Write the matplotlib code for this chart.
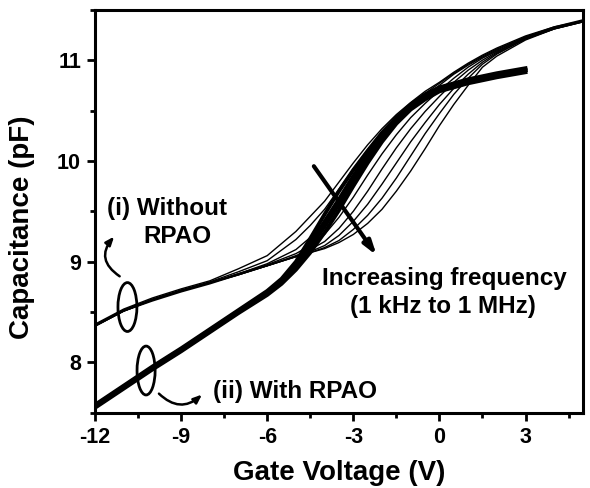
import matplotlib
matplotlib.use("Agg")
import matplotlib.pyplot as plt
from matplotlib.patches import Ellipse, FancyArrowPatch
from matplotlib.ticker import MultipleLocator

plt.rcParams['font.family'] = ['Liberation Sans', 'DejaVu Sans']
plt.rcParams['font.weight'] = 'bold'
plt.rcParams['axes.unicode_minus'] = False

# (i) without RPAO: gate voltage grid and one C-V curve per frequency (1 kHz -> 1 MHz)
v_without = [-12, -11, -10, -9, -8, -7, -6, -5, -4.5, -4, -3.5, -3, -2.5, -2, -1.5, -1,
             -0.5, 0, 0.5, 1, 1.5, 2, 3, 4, 5]
c_without = [
    [8.38, 8.53, 8.64, 8.73, 8.81, 8.93, 9.06, 9.30, 9.45, 9.60, 9.79, 9.98, 10.16, 10.32, 10.46, 10.58,
     10.69, 10.78, 10.88, 10.97, 11.05, 11.12, 11.24, 11.33, 11.40],
    [8.37, 8.52, 8.63, 8.72, 8.80, 8.90, 9.01, 9.22, 9.36, 9.52, 9.72, 9.92, 10.11, 10.28, 10.43, 10.56,
     10.67, 10.77, 10.87, 10.96, 11.04, 11.11, 11.23, 11.33, 11.39],
    [8.37, 8.52, 8.62, 8.71, 8.79, 8.88, 8.98, 9.12, 9.24, 9.40, 9.60, 9.83, 10.04, 10.22, 10.38, 10.52,
     10.64, 10.75, 10.86, 10.95, 11.03, 11.10, 11.23, 11.32, 11.39],
    [8.37, 8.52, 8.62, 8.71, 8.79, 8.88, 8.97, 9.08, 9.16, 9.27, 9.44, 9.64, 9.86, 10.07, 10.26, 10.43,
     10.57, 10.70, 10.82, 10.93, 11.02, 11.09, 11.22, 11.32, 11.39],
    [8.37, 8.51, 8.62, 8.71, 8.79, 8.88, 8.96, 9.06, 9.12, 9.20, 9.33, 9.50, 9.70, 9.92, 10.13, 10.32,
     10.49, 10.64, 10.78, 10.90, 11.00, 11.08, 11.22, 11.32, 11.39],
    [8.36, 8.51, 8.62, 8.71, 8.79, 8.87, 8.96, 9.05, 9.10, 9.16, 9.26, 9.40, 9.57, 9.77, 9.98, 10.19,
     10.38, 10.56, 10.72, 10.86, 10.98, 11.07, 11.21, 11.31, 11.38],
    [8.36, 8.51, 8.62, 8.71, 8.79, 8.87, 8.96, 9.05, 9.09, 9.14, 9.21, 9.32, 9.46, 9.63, 9.83, 10.05,
     10.27, 10.47, 10.66, 10.82, 10.96, 11.06, 11.21, 11.31, 11.38],
    [8.36, 8.51, 8.61, 8.70, 8.78, 8.87, 8.96, 9.05, 9.09, 9.13, 9.19, 9.27, 9.38, 9.52, 9.70, 9.90,
     10.12, 10.35, 10.56, 10.75, 10.93, 11.04, 11.20, 11.31, 11.38],
]

# (ii) with RPAO: curves nearly overlap, small spread in the transition
v_with = [-12, -11, -10, -9, -8, -7, -6, -5.5, -5, -4.5, -4, -3.5, -3, -2.5, -2, -1.5, -1,
          -0.5, 0, 1, 2, 3]
c_with = [
    [7.58, 7.77, 7.96, 8.14, 8.33, 8.52, 8.71, 8.83, 9.00, 9.23, 9.47, 9.70, 9.91, 10.10, 10.28, 10.43,
     10.56, 10.66, 10.73, 10.81, 10.87, 10.92],
    [7.57, 7.76, 7.95, 8.13, 8.32, 8.51, 8.70, 8.81, 8.97, 9.18, 9.40, 9.62, 9.85, 10.06, 10.25, 10.41,
     10.54, 10.64, 10.71, 10.79, 10.85, 10.90],
    [7.56, 7.75, 7.94, 8.12, 8.31, 8.50, 8.69, 8.80, 8.95, 9.14, 9.35, 9.57, 9.81, 10.03, 10.23, 10.40,
     10.53, 10.63, 10.70, 10.79, 10.85, 10.90],
    [7.55, 7.74, 7.93, 8.11, 8.30, 8.49, 8.67, 8.78, 8.92, 9.09, 9.29, 9.51, 9.75, 9.98, 10.19, 10.37,
     10.51, 10.61, 10.69, 10.77, 10.83, 10.88],
]

fig = plt.figure(figsize=(5.9, 4.88), dpi=100)
ax = fig.add_axes([0.161, 0.154, 0.827, 0.826])

for c in c_without:
    ax.plot(v_without, c, color='black', lw=1.0)
for c in c_with:
    ax.plot(v_with, c, color='black', lw=2.8)

ax.set_xlim(-12, 5)
ax.set_ylim(7.5, 11.5)
ax.xaxis.set_major_locator(MultipleLocator(3))
ax.xaxis.set_minor_locator(MultipleLocator(1.5))
ax.yaxis.set_major_locator(MultipleLocator(1))
ax.yaxis.set_minor_locator(MultipleLocator(0.5))
ax.tick_params(which='major', direction='out', length=6, width=2, labelsize=15.5, pad=4)
ax.tick_params(which='minor', direction='out', length=3.5, width=2)
for s in ax.spines.values():
    s.set_linewidth(2.2)

ax.set_xlabel('Gate Voltage (V)', fontsize=20, fontweight='bold', labelpad=9)
ax.set_ylabel('Capacitance (pF)', fontsize=20, fontweight='bold')
ax.yaxis.set_label_coords(-0.122, 0.46)

# annotations
fs = 17.5
ax.text(-11.58, 9.53, '(i) Without', fontsize=fs, fontweight='bold', ha='left', va='center')
ax.text(-10.33, 9.25, 'RPAO', fontsize=fs, fontweight='bold', ha='left', va='center')
ax.text(-7.88, 7.71, '(ii) With RPAO', fontsize=fs, fontweight='bold', ha='left', va='center')
ax.text(-4.08, 8.83, 'Increasing frequency', fontsize=fs, fontweight='bold', ha='left', va='center')
ax.text(-3.1, 8.56, '(1 kHz to 1 MHz)', fontsize=fs, fontweight='bold', ha='left', va='center')

ax.add_patch(Ellipse((-10.87, 8.55), 0.66, 0.485, fill=False, lw=2, color='black'))
ax.add_patch(Ellipse((-10.22, 7.92), 0.63, 0.485, fill=False, lw=2, color='black'))

ax.add_patch(FancyArrowPatch((-11.06, 8.84), (-11.27, 9.27), connectionstyle='arc3,rad=-0.6',
                             arrowstyle='-|>,head_length=5,head_width=2', lw=1.8, color='black'))
ax.add_patch(FancyArrowPatch((-9.84, 7.71), (-8.2, 7.70), connectionstyle='arc3,rad=0.5',
                             arrowstyle='-|>,head_length=5,head_width=2', lw=1.8, color='black'))
ax.add_patch(FancyArrowPatch((-4.43, 9.97), (-2.13, 9.04),
                             arrowstyle='-|>,head_length=8,head_width=2.5', lw=3, color='black'))

fig.savefig('out.png', dpi=100)
